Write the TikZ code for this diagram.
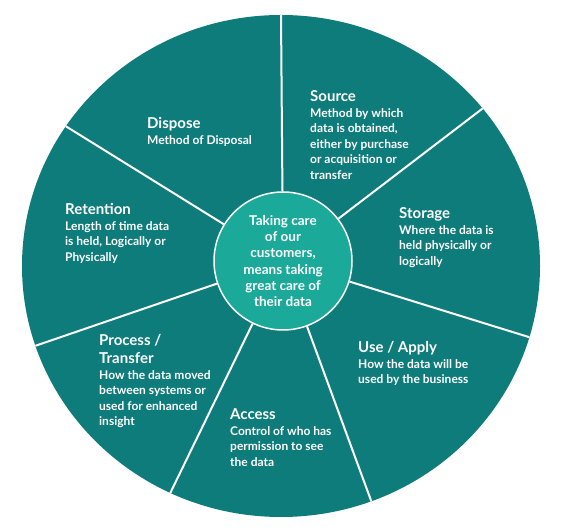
\documentclass[tikz,border=0pt]{standalone}
\usepackage{fontspec}
\setmainfont{Lato}
\usepackage{tikz}
\usetikzlibrary{shapes.geometric,positioning}
\definecolor{wheelTeal}{HTML}{0E7C7B}
\definecolor{hubTeal}{HTML}{1BA99A}
\tikzset{
  spoke/.style={white, line width=2pt},
  ttl/.style={text=white, font=\bfseries\fontsize{15}{18}\selectfont, inner sep=0pt, anchor=base west, align=left},
  desc/.style={text=white, font=\bfseries\fontsize{12}{15.5}\selectfont, inner sep=0pt, align=left},
}
\newcommand{\drawSector}[4]{\node [ttl] (#1) at (#2) {#3};
  \node [desc, below right=6pt and 0pt of #1.base west] (#1Text) {#4}}

\begin{document}
\begin{tikzpicture}[x=1pt, y=1pt]
    \useasboundingbox (0,0) rectangle (567,532);

    \node [ellipse, fill=wheelTeal, minimum width=518pt, minimum height=502pt, inner sep=0pt, outer sep=0pt] (wheel) at (281,266) {};

    \node [circle, fill=hubTeal, draw=white, line width=1.5pt, minimum size=138pt, inner sep=0pt, align=center, text=white, font=\bfseries\fontsize{13.5}{16.3}\selectfont] (hub) at (283,271) {Taking care\\of our\\customers,\\means taking\\great care of\\their data};

    %spokes
    \draw [spoke] (hub) -- (wheel.90);
    \draw [spoke] (hub) -- (wheel.38);
    \draw [spoke] (hub) -- (wheel.-16);
    \draw [spoke] (hub) -- (wheel.-69);
    \draw [spoke] (hub) -- (wheel.-116);
    \draw [spoke] (hub) -- (wheel.198);
    \draw [spoke] (hub) -- (wheel.147);

    %for dispose
    \drawSector{dispose}{147,403}{Dispose}{Method of Disposal};

    %for source
    \drawSector{source}{310,430}{Source}{Method by which\\data is obtained,\\either by purchase\\or acquisition or\\transfer};

    %for storage
    \drawSector{storage}{399,313}{Storage}{Where the data is\\held physically or\\logically};

    %for use
    \drawSector{use}{358,179}{Use / Apply}{How the data will be\\used by the business};

    %for access
    \drawSector{access}{230,112}{Access}{Control of who has\\permission to see\\the data};

    %for process
    \node [ttl] (process) at (99,168) {Process /\\Transfer};
    \node [desc, below right=6pt and 0pt of process.south west] (processText) {How the data moved\\between systems or\\used for enhanced\\insight};

    %for retention
    \drawSector{retention}{65,317}{Retention}{Length of time data\\is held, Logically or\\Physically};

\end{tikzpicture}
\end{document}
